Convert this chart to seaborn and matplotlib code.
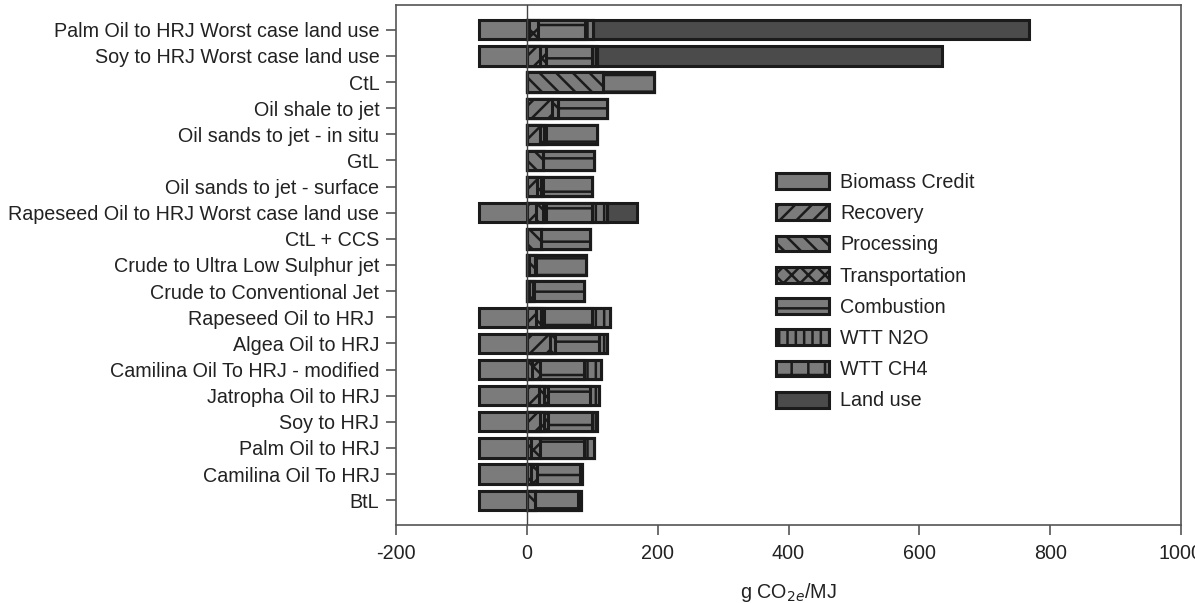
import numpy as np
import pandas as pd
import matplotlib
matplotlib.use("Agg")
import matplotlib.pyplot as plt
import matplotlib.patches as mpatches
import seaborn as sns

# data (g CO2e/MJ)
pathways = ["Palm Oil to HRJ Worst case land use", "Soy to HRJ Worst case land use", "CtL",
            "Oil shale to jet", "Oil sands to jet - in situ", "GtL", "Oil sands to jet - surface",
            "Rapeseed Oil to HRJ Worst case land use", "CtL + CCS", "Crude to Ultra Low Sulphur jet",
            "Crude to Conventional Jet", "Rapeseed Oil to HRJ ", "Algea Oil to HRJ",
            "Camilina Oil To HRJ - modified", "Jatropha Oil to HRJ", "Soy to HRJ",
            "Palm Oil to HRJ", "Camilina Oil To HRJ", "BtL"]
biomass_credit = [-73, -73, 0, 0, 0, 0, 0, -73, 0, 0, 0, -73, -73, -73, -73, -73, -73, -73, -73]
recovery       = [0, 20, 0, 38, 20, 0, 15, 14, 0, 4, 4, 14, 35, 0, 18, 20, 0, 0, 0]
processing     = [3, 0, 117, 10, 6, 25, 6, 10, 21, 8, 5, 8, 8, 8, 8, 6, 6, 6, 12]
transportation = [14, 10, 0, 0, 4, 0, 3, 6, 0, 2, 2, 5, 0, 12, 6, 6, 14, 9, 0]
combustion     = [72, 70, 78, 74, 78, 77, 75, 69, 76, 77, 77, 73, 68, 68, 64, 68, 68, 66, 66]
wtt_n2o        = [12, 8, 0, 0, 0, 0, 0, 23, 0, 0, 0, 27, 11, 25, 14, 8, 14, 3, 5]
wtt_ch4        = [0, 0, 0, 0, 0, 0, 0, 0, 0, 0, 0, 0, 0, 0, 0, 0, 0, 0, 0]
land_use       = [667, 527, 0, 0, 0, 0, 0, 46, 0, 0, 0, 0, 0, 0, 0, 0, 0, 0, 0]

series = [("Recovery", recovery), ("Processing", processing), ("Transportation", transportation),
          ("Combustion", combustion), ("WTT N2O", wtt_n2o), ("WTT CH4", wtt_ch4), ("Land use", land_use)]
hatches = {"Biomass Credit": "", "Recovery": "//", "Processing": "\\\\", "Transportation": "xx",
           "Combustion": "-", "WTT N2O": "||", "WTT CH4": "+", "Land use": ""}
GRAY = "#7b7b7b"
DARK = "#4b4b4b"
EDGE = "#1b1b1b"
fills = {k: (DARK if k == "Land use" else GRAY) for k in hatches}
FS = 14.2

sns.set_theme(style="ticks")
plt.rcParams["font.family"] = ["Liberation Sans", "DejaVu Sans"]
plt.rcParams["axes.unicode_minus"] = False
plt.rcParams["hatch.linewidth"] = 1.8
plt.rcParams["hatch.color"] = EDGE

fig = plt.figure(figsize=(11.95, 6.03), dpi=100)
ax = fig.add_axes([396/1195, 1-525/603, 785/1195, 520/603])

cum = np.zeros(len(pathways))
ends = []
for name, vals in series:
    cum = cum + np.array(vals, dtype=float)
    ends.append((name, cum.copy()))

# stacked bars: draw the longest cumulative first, shorter ones on top
for name, end in reversed(ends):
    sns.barplot(x=end, y=pathways, orient="h", color=fills[name], saturation=1,
                hatch=hatches[name], edgecolor=EDGE, linewidth=2.2, width=0.74,
                errorbar=None, ax=ax)
sns.barplot(x=biomass_credit, y=pathways, orient="h", color=GRAY, saturation=1,
            edgecolor=EDGE, linewidth=2.2, width=0.74, errorbar=None, ax=ax)

ax.axvline(0, color="#444444", lw=1.0, zorder=5)
ax.set_xlim(-200, 1000)
ax.set_ylim(len(pathways) - 1 + 0.95, -0.95)
ax.set_xticks(np.arange(-200, 1001, 200))
ax.set_ylabel("")
ax.set_xlabel("g CO$_{2e}$/MJ", fontsize=FS, color="#222222", labelpad=13)
for s in ax.spines.values():
    s.set_visible(True)
    s.set_color("#555555")
    s.set_linewidth(1.2)
ax.tick_params(axis="both", direction="out", length=7, width=1.2, color="#555555",
               labelsize=FS, labelcolor="#222222")
ax.tick_params(axis="y", pad=5)
ax.tick_params(axis="x", pad=7)

handles = [mpatches.Patch(facecolor=fills[k], hatch=hatches[k], edgecolor=EDGE, linewidth=2.2, label=k)
           for k in hatches]
fig.legend(handles=handles, loc="upper left", bbox_to_anchor=(768/1195, 1-165/603), frameon=False,
           fontsize=FS, handlelength=2.7, handleheight=0.85, labelspacing=0.62, handletextpad=0.55,
           borderaxespad=0, labelcolor="#222222")

fig.savefig("out.png", dpi=100)
